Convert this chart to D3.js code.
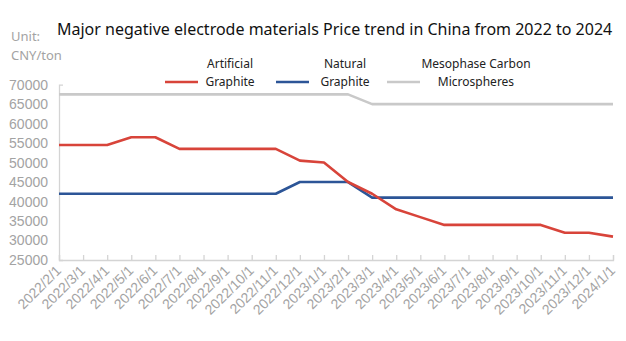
<!DOCTYPE html>
<html>
<head>
<meta charset="utf-8">
<script src="https://cdn.jsdelivr.net/npm/d3@7"></script>
<style>
  body { margin: 0; background: #fff; }
  svg { display: block; font-family: "Noto Sans", "Open Sans", sans-serif; }
</style>
</head>
<body>
<div id="wrapper"></div>
<script>
// data
const months = [
  "2022/2/1", "2022/3/1", "2022/4/1", "2022/5/1", "2022/6/1", "2022/7/1",
  "2022/8/1", "2022/9/1", "2022/10/1", "2022/11/1", "2022/12/1", "2023/1/1",
  "2023/2/1", "2023/3/1", "2023/4/1", "2023/5/1", "2023/6/1", "2023/7/1",
  "2023/8/1", "2023/9/1", "2023/10/1", "2023/11/1", "2023/12/1", "2024/1/1"
];
const artificialGraphite = [
  54500, 54500, 54500, 56500, 56500, 53500, 53500, 53500, 53500, 53500, 50500, 50000,
  45000, 42000, 38000, 36000, 34000, 34000, 34000, 34000, 34000, 32000, 32000, 31000
];
const naturalGraphite = [
  42000, 42000, 42000, 42000, 42000, 42000, 42000, 42000, 42000, 42000, 45000, 45000,
  45000, 41000, 41000, 41000, 41000, 41000, 41000, 41000, 41000, 41000, 41000, 41000
];
const mesocarbonMicrobeads = [
  67500, 67500, 67500, 67500, 67500, 67500, 67500, 67500, 67500, 67500, 67500, 67500,
  67500, 65000, 65000, 65000, 65000, 65000, 65000, 65000, 65000, 65000, 65000, 65000
];
const yTicks = [25000, 30000, 35000, 40000, 45000, 50000, 55000, 60000, 65000, 70000];

const series = [
  { name: ["Artificial", "Graphite"], values: artificialGraphite, color: "#d8443a" },
  { name: ["Natural", "Graphite"], values: naturalGraphite, color: "#2c5597" },
  { name: ["Mesophase Carbon", "Microspheres"], values: mesocarbonMicrobeads, color: "#c9c9c9" },
];

// dimensions
const dimensions = {
  width: 626,
  height: 341,
  margin: { top: 84.6, right: 13, bottom: 81, left: 59 },
};
dimensions.boundedWidth = dimensions.width - dimensions.margin.left - dimensions.margin.right;
dimensions.boundedHeight = dimensions.height - dimensions.margin.top - dimensions.margin.bottom;

const wrapper = d3.select("#wrapper")
  .append("svg")
  .attr("width", dimensions.width)
  .attr("height", dimensions.height);

const bounds = wrapper.append("g")
  .attr("transform", `translate(${dimensions.margin.left},${dimensions.margin.top})`);

// scales
const xScale = d3.scalePoint()
  .domain(months)
  .range([0, dimensions.boundedWidth]);

const yScale = d3.scaleLinear()
  .domain([25000, 70000])
  .range([dimensions.boundedHeight, 0]);

// axes
const axisColor = "#d4d4d4";
const labelColor = "#a3a3a3";

const xAxis = bounds.append("g")
  .attr("transform", `translate(0,${dimensions.boundedHeight})`)
  .call(d3.axisBottom(xScale).tickSizeInner(-5).tickSizeOuter(-5).tickPadding(0));
xAxis.selectAll("path, line").attr("stroke", axisColor).attr("stroke-width", 1.3);
xAxis.selectAll("text")
  .attr("fill", labelColor)
  .attr("font-size", 14)
  .attr("text-anchor", "end")
  .attr("transform", "translate(-1,8) rotate(-45)")
  .attr("dy", "0.35em")
  .attr("y", 0);

const yAxis = bounds.append("g")
  .call(d3.axisLeft(yScale).tickValues(yTicks).tickFormat(d3.format("d"))
    .tickSizeInner(0).tickSizeOuter(-4).tickPadding(11));
yAxis.selectAll("path, line").attr("stroke", axisColor).attr("stroke-width", 1.3);
yAxis.selectAll("text")
  .attr("fill", labelColor)
  .attr("font-size", 14);

// lines
const lineGenerator = d3.line()
  .x((d, i) => xScale(months[i]))
  .y((d) => yScale(d));

bounds.selectAll(".series")
  .data(series.slice().reverse())
  .join("path")
  .attr("class", "series")
  .attr("fill", "none")
  .attr("stroke", (d) => d.color)
  .attr("stroke-width", 2.6)
  .attr("stroke-linejoin", "round")
  .attr("d", (d) => lineGenerator(d.values));

// title and unit
wrapper.append("text")
  .attr("x", 57)
  .attr("y", 35)
  .attr("font-size", 16)
  .attr("fill", "#111")
  .text("Major negative electrode materials Price trend in China from 2022 to 2024");

wrapper.append("text")
  .attr("x", 11)
  .attr("y", 41)
  .attr("font-size", 13)
  .attr("fill", "#a3a3a3")
  .text("Unit:");
wrapper.append("text")
  .attr("x", 11)
  .attr("y", 60)
  .attr("font-size", 13)
  .attr("fill", "#a3a3a3")
  .text("CNY/ton");

// legend
const legendItems = [
  { swatch: 165, textCenter: 230 },
  { swatch: 276, textCenter: 345 },
  { swatch: 387, textCenter: 476 },
];
const legend = wrapper.append("g");
series.forEach((s, i) => {
  const item = legend.append("g");
  item.append("line")
    .attr("x1", legendItems[i].swatch)
    .attr("x2", legendItems[i].swatch + 33)
    .attr("y1", 82)
    .attr("y2", 82)
    .attr("stroke", s.color)
    .attr("stroke-width", 2.6);
  item.append("text")
    .attr("x", legendItems[i].textCenter)
    .attr("y", 68)
    .attr("text-anchor", "middle")
    .attr("font-size", 12)
    .attr("fill", "#222")
    .text(s.name[0]);
  item.append("text")
    .attr("x", legendItems[i].textCenter)
    .attr("y", 86)
    .attr("text-anchor", "middle")
    .attr("font-size", 12)
    .attr("fill", "#222")
    .text(s.name[1]);
});
</script>
</body>
</html>
